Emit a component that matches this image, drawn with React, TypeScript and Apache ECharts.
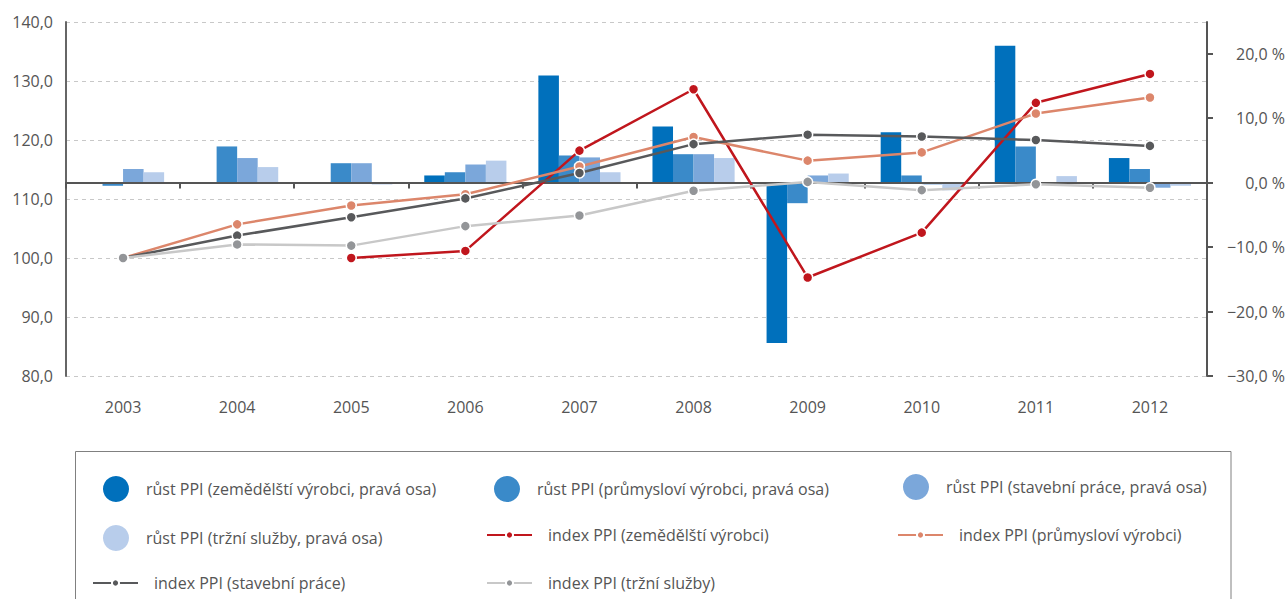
import React, { useEffect, useRef } from "react";
import * as echarts from "echarts";

const years = ["2003", "2004", "2005", "2006", "2007", "2008", "2009", "2010", "2011", "2012"];

const rustZem = [null, null, null, 1.1, 16.6, 8.7, -24.9, 7.8, 21.2, 3.8];
const rustPrum = [-0.5, 5.6, 3.0, 1.6, 4.2, 4.4, -3.2, 1.1, 5.6, 2.1];
const rustStav = [2.1, 3.8, 3.0, 2.8, 3.9, 4.4, 1.1, -0.3, 0.0, -0.8];
const rustTrzni = [1.6, 2.4, -0.3, 3.4, 1.6, 3.8, 1.4, -1.2, 1.0, -0.5];

const indexZem = [null, null, 100.0, 101.2, 118.2, 128.6, 96.7, 104.3, 126.3, 131.2];
const indexPrum = [100.0, 105.7, 108.9, 110.8, 115.5, 120.5, 116.5, 117.9, 124.5, 127.2];
const indexStav = [100.0, 103.8, 106.9, 110.1, 114.4, 119.3, 120.9, 120.6, 120.0, 119.0];
const indexTrzni = [100.0, 102.3, 102.1, 105.4, 107.2, 111.4, 112.9, 111.5, 112.5, 111.9];

const leftTicks = [80, 90, 100, 110, 120, 130, 140];
const rightTicks = [-30, -20, -10, 0, 10, 20];

const names = {
  rZem: "růst PPI (zemědělští výrobci, pravá osa)",
  rPrum: "růst PPI (průmysloví výrobci, pravá osa)",
  rStav: "růst PPI (stavební práce, pravá osa)",
  rTrzni: "růst PPI (tržní služby, pravá osa)",
  iZem: "index PPI (zemědělští výrobci)",
  iPrum: "index PPI (průmysloví výrobci)",
  iStav: "index PPI (stavební práce)",
  iTrzni: "index PPI (tržní služby)",
};

const FONT = "'Open Sans', sans-serif";

function fmt(v: number) {
  return v.toFixed(1).replace(".", ",");
}

export default function App() {
  const ref = useRef<HTMLDivElement>(null);
  useEffect(() => {
    if (!ref.current) return;
    const chart = echarts.init(ref.current, null, { renderer: "svg" });

    const barBase = {
      type: "bar" as const,
      yAxisIndex: 1,
      barGap: "0%",
      barCategoryGap: "28%",
      z: 2,
    };
    const lineBase = {
      type: "line" as const,
      yAxisIndex: 0,
      symbol: "circle",
      symbolSize: 10,
      lineStyle: { width: 2.5 },
      z: 4,
    };

    const circleLegend = (name: string, left: number, top: number) => ({
      data: [{ name, icon: "circle" }],
      left,
      top,
      padding: 0,
      itemWidth: 26,
      itemHeight: 26,
      textStyle: { fontFamily: FONT, fontSize: 16, color: "#555", padding: [0, 0, 0, 12] },
    });
    const lineLegend = (name: string, left: number, top: number) => ({
      data: [{ name }],
      left,
      top,
      padding: 0,
      itemWidth: 45,
      itemHeight: 9,
      textStyle: { fontFamily: FONT, fontSize: 16, color: "#555", padding: [0, 0, 0, 11] },
    });

    chart.setOption({
      animation: false,
      textStyle: { fontFamily: FONT },
      grid: { left: 66, right: 81, top: 22, height: 354 },
      legend: [
        circleLegend(names.rZem, 103, 476),
        circleLegend(names.rPrum, 494, 476),
        circleLegend(names.rStav, 903, 474),
        circleLegend(names.rTrzni, 103, 525),
        lineLegend(names.iZem, 486, 527),
        lineLegend(names.iPrum, 897, 527),
        lineLegend(names.iStav, 92, 575),
        lineLegend(names.iTrzni, 486, 575),
      ],
      graphic: [
        {
          type: "rect",
          shape: { x: 75.5, y: 451.5, width: 1155.5, height: 200 },
          style: { fill: "none", stroke: "#808080", lineWidth: 1 },
          silent: true,
        },
      ],
      xAxis: {
        type: "category",
        data: years,
        boundaryGap: true,
        axisLine: { lineStyle: { color: "#555", width: 2 } },
        axisTick: { show: true, length: 6, lineStyle: { color: "#555", width: 2 } },
        axisLabel: { color: "#555", fontSize: 16, margin: 23, fontFamily: FONT },
        splitLine: { show: false },
      },
      yAxis: [
        {
          type: "value",
          min: 80,
          max: 140,
          interval: 10,
          position: "left",
          axisLine: { show: true, lineStyle: { color: "#666", width: 2 } },
          axisTick: { show: false },
          axisLabel: {
            color: "#555",
            fontSize: 16,
            margin: 13,
            fontFamily: FONT,
            customValues: leftTicks,
            formatter: (v: number) => fmt(v),
          },
          splitLine: { show: true, lineStyle: { color: "#c8c8c8", type: [4, 4], width: 1 } },
        },
        {
          type: "value",
          min: -30,
          max: 24.9,
          position: "right",
          axisLine: { show: true, lineStyle: { color: "#555", width: 2 } },
          axisTick: {
            show: true,
            inside: false,
            length: 6,
            customValues: rightTicks,
            lineStyle: { color: "#555", width: 2 },
          },
          axisLabel: {
            color: "#555",
            fontSize: 16,
            margin: 78,
            align: "right",
            fontFamily: FONT,
            customValues: rightTicks,
            formatter: (v: number) => (v < 0 ? "\u2212" + fmt(-v) : fmt(v)) + " %",
          },
          splitLine: { show: false },
        },
      ],
      series: [
        {
          ...barBase,
          name: names.rZem,
          data: rustZem,
          itemStyle: { color: "#0070bc" },
          markLine: {
            silent: true,
            symbol: ["none", "none"],
            label: { show: false },
            lineStyle: { color: "#555", width: 2, type: "solid" },
            data: [{ yAxis: 0 }],
            z: 3,
          },
        },
        { ...barBase, name: names.rPrum, data: rustPrum, itemStyle: { color: "#3a8ac9" } },
        { ...barBase, name: names.rStav, data: rustStav, itemStyle: { color: "#7ba7da" } },
        { ...barBase, name: names.rTrzni, data: rustTrzni, itemStyle: { color: "#b8cdeb" } },
        {
          ...lineBase,
          name: names.iZem,
          data: indexZem,
          lineStyle: { width: 2.5, color: "#c0161d" },
          itemStyle: { color: "#c0161d", borderColor: "#fff", borderWidth: 1.5 },
        },
        {
          ...lineBase,
          name: names.iPrum,
          data: indexPrum,
          lineStyle: { width: 2.5, color: "#dc866b" },
          itemStyle: { color: "#dc866b", borderColor: "#fff", borderWidth: 1.5 },
        },
        {
          ...lineBase,
          name: names.iStav,
          data: indexStav,
          lineStyle: { width: 2.5, color: "#58595b" },
          itemStyle: { color: "#58595b", borderColor: "#fff", borderWidth: 1.5 },
        },
        {
          ...lineBase,
          name: names.iTrzni,
          data: indexTrzni,
          lineStyle: { width: 2.5, color: "#c8c8c8" },
          itemStyle: { color: "#939598", borderColor: "#fff", borderWidth: 1.5 },
        },
      ],
    });
    return () => chart.dispose();
  }, []);

  return (
    <div
      ref={ref}
      style={{ position: "fixed", left: 0, top: 0, width: 1288, height: 599, background: "#fff" }}
    />
  );
}
